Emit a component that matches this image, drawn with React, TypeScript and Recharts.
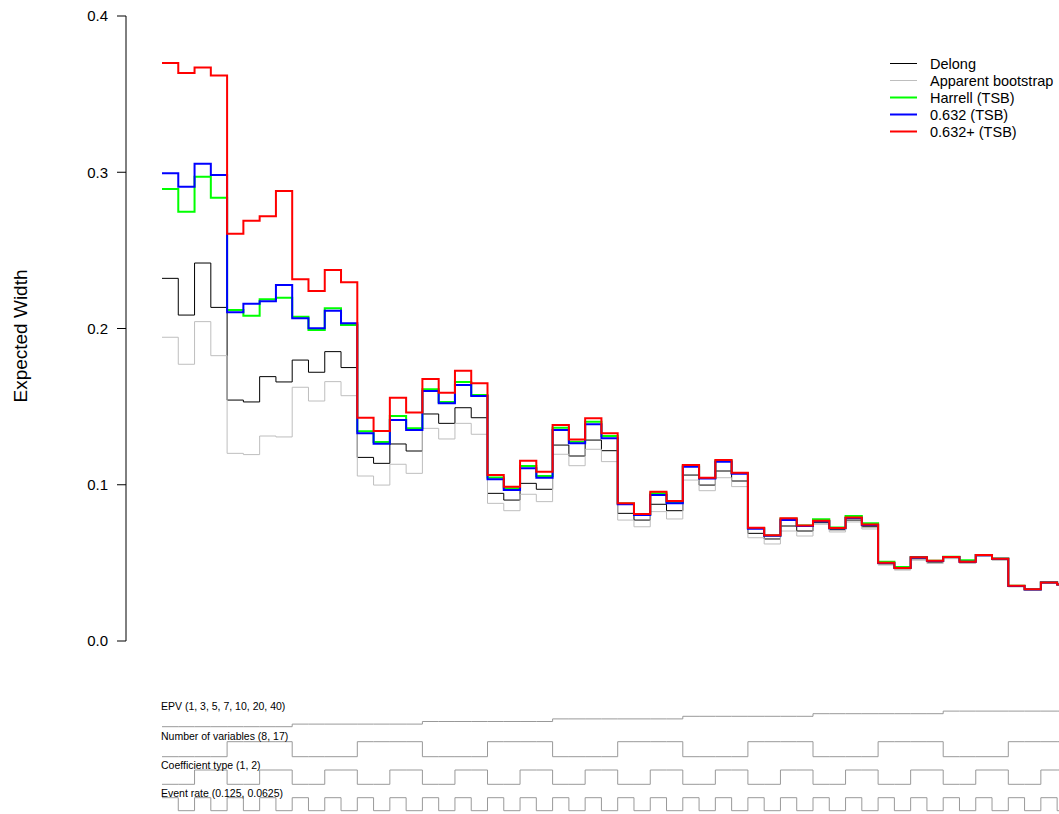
import { LineChart, Line, XAxis, YAxis, Legend } from "recharts";

// expected CI width per scenario (56 scenarios, EPV x vars x coef x event rate)
const DELONG = [
  0.2321, 0.2086, 0.2419, 0.2135, 0.1542, 0.153, 0.1692, 0.1658,
  0.1798, 0.172, 0.1852, 0.175, 0.1175, 0.1137, 0.1261, 0.1216,
  0.1453, 0.1393, 0.1493, 0.1429, 0.0945, 0.0902, 0.1009, 0.0971,
  0.1254, 0.1184, 0.1286, 0.1218, 0.0817, 0.0774, 0.0875, 0.0834,
  0.1062, 0.0998, 0.1088, 0.1024, 0.0689, 0.0653, 0.0736, 0.0704,
  0.0757, 0.0712, 0.0774, 0.0731, 0.0493, 0.0462, 0.0526, 0.0505,
  0.0531, 0.0501, 0.0545, 0.0521, 0.0349, 0.0328, 0.0372, 0.0359,
];
const APPARENT = [
  0.1944, 0.1771, 0.2044, 0.1826, 0.1201, 0.1193, 0.1312, 0.1306,
  0.1624, 0.1536, 0.166, 0.157, 0.1056, 0.0998, 0.1131, 0.1073,
  0.1361, 0.1293, 0.1393, 0.1323, 0.0881, 0.0834, 0.0939, 0.0892,
  0.1195, 0.1122, 0.1227, 0.1148, 0.0774, 0.0731, 0.0828, 0.0781,
  0.103, 0.0962, 0.1045, 0.0988, 0.0661, 0.0621, 0.0704, 0.0672,
  0.0747, 0.0698, 0.0762, 0.0717, 0.0486, 0.0454, 0.0517, 0.0496,
  0.0527, 0.0497, 0.0541, 0.0517, 0.0346, 0.0325, 0.0369, 0.0356,
];
const HARRELL = [
  0.2893, 0.2748, 0.2972, 0.2837, 0.2118, 0.2082, 0.2187, 0.2197,
  0.2076, 0.199, 0.2129, 0.2022, 0.1342, 0.1274, 0.144, 0.1361,
  0.1611, 0.153, 0.1658, 0.1574, 0.1047, 0.0977, 0.112, 0.1056,
  0.1365, 0.1276, 0.1404, 0.1312, 0.088, 0.081, 0.0945, 0.089,
  0.1122, 0.1044, 0.1153, 0.1075, 0.0723, 0.0676, 0.0782, 0.0739,
  0.0779, 0.0726, 0.08, 0.0753, 0.0508, 0.0474, 0.0537, 0.0514,
  0.0539, 0.0517, 0.0551, 0.0528, 0.0354, 0.0332, 0.0376, 0.0363,
];
const B632 = [
  0.2993, 0.2908, 0.3055, 0.2982, 0.2104, 0.2159, 0.2174, 0.2278,
  0.2065, 0.2001, 0.2114, 0.2033, 0.133, 0.1263, 0.1414, 0.135,
  0.16, 0.1521, 0.1638, 0.1568, 0.1035, 0.0966, 0.1105, 0.1045,
  0.135, 0.1265, 0.1387, 0.1297, 0.0875, 0.0806, 0.0934, 0.0881,
  0.1116, 0.104, 0.1148, 0.107, 0.0719, 0.0674, 0.0774, 0.0736,
  0.0766, 0.0722, 0.0788, 0.0743, 0.0499, 0.0467, 0.0535, 0.0512,
  0.0537, 0.0507, 0.0549, 0.0526, 0.0352, 0.033, 0.0374, 0.0361,
];
const B632PLUS = [
  0.37, 0.3635, 0.367, 0.362, 0.2607, 0.269, 0.2718, 0.288,
  0.2315, 0.224, 0.2374, 0.2296, 0.1429, 0.1344, 0.1557, 0.1463,
  0.1677, 0.1589, 0.173, 0.1649, 0.1062, 0.0988, 0.1154, 0.1084,
  0.1382, 0.1289, 0.1425, 0.1329, 0.0881, 0.0813, 0.0956, 0.0896,
  0.1126, 0.1045, 0.1158, 0.1077, 0.0725, 0.0677, 0.0785, 0.074,
  0.0769, 0.0723, 0.079, 0.0745, 0.0501, 0.0468, 0.0536, 0.0513,
  0.0538, 0.0507, 0.055, 0.0527, 0.0353, 0.0331, 0.0375, 0.0362,
];

// simulation factors (nested loop order)
const EPV = [1, 3, 5, 7, 10, 20, 40];
const NVARS = [8, 17];
const COEF = [1, 2];
const EVENT_RATE = [0.125, 0.0625];

const Y_TICKS = [0, 0.1, 0.2, 0.3, 0.4];

const SERIES = [
  { key: "delong", name: "Delong", values: DELONG, color: "#000000", width: 1 },
  { key: "apparent", name: "Apparent bootstrap", values: APPARENT, color: "#bebebe", width: 1 },
  { key: "harrell", name: "Harrell (TSB)", values: HARRELL, color: "#00ff00", width: 2 },
  { key: "b632", name: "0.632 (TSB)", values: B632, color: "#0000ff", width: 2 },
  { key: "b632plus", name: "0.632+ (TSB)", values: B632PLUS, color: "#ff0000", width: 2 },
];

const N = DELONG.length;
const X_DOMAIN = [-2.212, 55.115];
const FONT = "'Liberation Sans', Arial, Helvetica, sans-serif";

// one row per scenario, plus a closing point for the last step
const data = Array.from({ length: N + 1 }, (_, i) => {
  const row: Record<string, number> = { x: i };
  SERIES.forEach((s) => {
    row[s.key] = s.values[Math.min(i, N - 1)];
  });
  return row;
});

// factorial design for the lower panel
const design: number[][] = [];
EPV.forEach((_, a) =>
  NVARS.forEach((_, b) =>
    COEF.forEach((_, c) => EVENT_RATE.forEach((_, d) => design.push([a, b, c, d])))
  )
);

const rank = (levels: number[], idx: number) =>
  [...levels].sort((p, q) => p - q).indexOf(levels[idx]);

const TRACKS = [
  { key: "epv", label: "EPV (1, 3, 5, 7, 10, 20, 40)", levels: EPV, base: 36.7, step: 2.6, labelY: 16 },
  { key: "nvars", label: "Number of variables (8, 17)", levels: NVARS, base: 66.7, step: 15, labelY: 46 },
  { key: "coef", label: "Coefficient type (1, 2)", levels: COEF, base: 94.3, step: 14.3, labelY: 75 },
  { key: "rate", label: "Event rate (0.125, 0.0625)", levels: EVENT_RATE, base: 120.7, step: 13, labelY: 102.7 },
];

const loopData = Array.from({ length: N + 1 }, (_, i) => {
  const lv = design[Math.min(i, N - 1)];
  const row: Record<string, number> = { x: i };
  TRACKS.forEach((t, k) => {
    row[t.key] = t.base - rank(t.levels, lv[k]) * t.step;
  });
  return row;
});

const renderLegend = () => (
  <div style={{ fontFamily: FONT, fontSize: 14.5, color: "#000" }}>
    {SERIES.map((s) => (
      <div key={s.key} style={{ display: "flex", alignItems: "center", height: 17 }}>
        <svg width={40} height={17}>
          <line x1={0} x2={27} y1={8.5} y2={8.5} stroke={s.color} strokeWidth={s.width} />
        </svg>
        <span>{s.name}</span>
      </div>
    ))}
  </div>
);

const yLabel = () => (
  <text
    x={27}
    y={336}
    transform="rotate(-90, 27, 336)"
    textAnchor="middle"
    fontSize={19}
    fontFamily={FONT}
    fill="#000"
  >
    Expected Width
  </text>
);

export default function App() {
  return (
    <div
      style={{
        position: "fixed",
        left: 0,
        top: 0,
        width: 1059,
        height: 814,
        background: "#fff",
        fontFamily: FONT,
        overflow: "hidden",
      }}
    >
      <div style={{ position: "absolute", left: 0, top: 0 }}>
        <LineChart width={1059} height={660} data={data} margin={{ top: 16, right: 0, bottom: 19, left: 0 }}>
          <XAxis type="number" dataKey="x" domain={X_DOMAIN} allowDataOverflow hide />
          <YAxis
            width={126}
            domain={[0, 0.4]}
            ticks={Y_TICKS}
            tickFormatter={(v: number) => v.toFixed(1)}
            tick={{ fill: "#000", fontSize: 15, fontFamily: FONT }}
            tickSize={9}
            tickMargin={9}
            axisLine={{ stroke: "#000" }}
            tickLine={{ stroke: "#000" }}
            label={yLabel}
          />
          {SERIES.map((s) => (
            <Line
              key={s.key}
              type="stepAfter"
              dataKey={s.key}
              name={s.name}
              stroke={s.color}
              strokeWidth={s.width}
              dot={false}
              activeDot={false}
              isAnimationActive={false}
            />
          ))}
          <Legend
            content={renderLegend}
            layout="vertical"
            verticalAlign="middle"
            align="center"
            wrapperStyle={{ top: 55, left: 890, width: 169 }}
          />
        </LineChart>
      </div>
      <div style={{ position: "absolute", left: 0, top: 690 }}>
        <LineChart width={1059} height={124} data={loopData} margin={{ top: 0, right: 0, bottom: 0, left: 126 }}>
          <XAxis type="number" dataKey="x" domain={X_DOMAIN} allowDataOverflow hide />
          <YAxis hide reversed domain={[0, 124]} allowDataOverflow />
          {TRACKS.map((t) => (
            <Line
              key={t.key}
              type="stepAfter"
              dataKey={t.key}
              stroke="#999999"
              strokeWidth={1}
              dot={false}
              activeDot={false}
              isAnimationActive={false}
            />
          ))}
        </LineChart>
        {TRACKS.map((t) => (
          <div
            key={t.key}
            style={{
              position: "absolute",
              left: 161,
              top: t.labelY - 7,
              fontSize: 10.5,
              lineHeight: "14px",
              color: "#000",
              whiteSpace: "nowrap",
            }}
          >
            {t.label}
          </div>
        ))}
      </div>
    </div>
  );
}
